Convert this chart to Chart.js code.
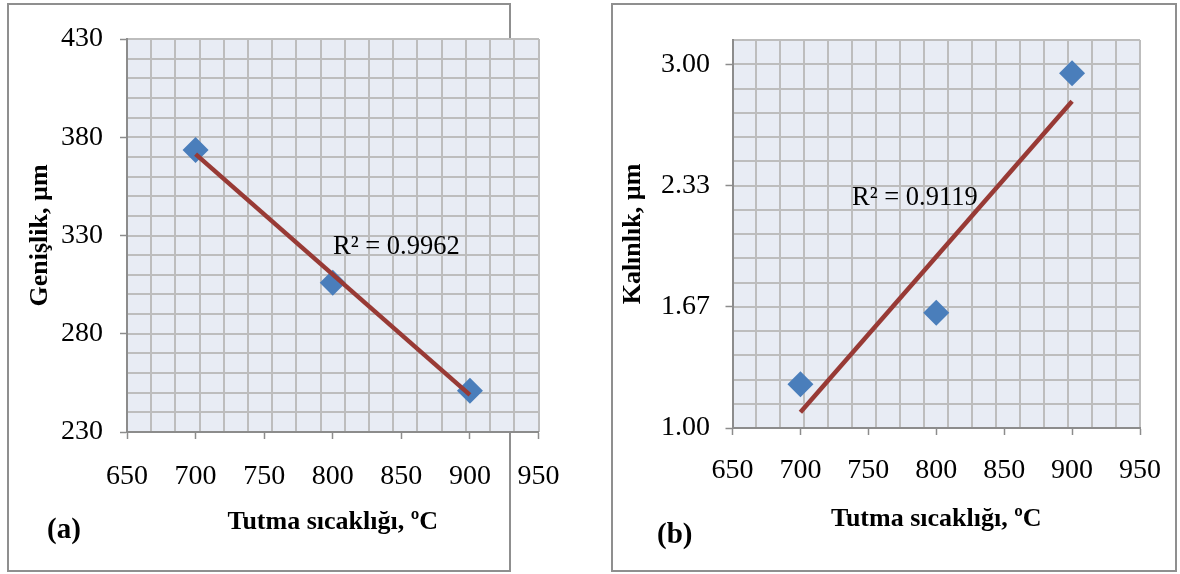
<!DOCTYPE html>
<html>
<head>
<meta charset="utf-8">
<script src="https://cdn.jsdelivr.net/npm/chart.js@4/dist/chart.umd.min.js"></script>
<style>
  body { margin: 0; background: #fff; width: 1180px; height: 574px; position: relative; overflow: hidden; }
  .frame { position: absolute; border: 2px solid #8f8f8f; box-sizing: border-box; }
  canvas { position: absolute; top: 0; }
  .note { position: absolute; font-family: "Liberation Serif", "Times New Roman", serif; line-height: 1; color: #000; white-space: nowrap; }
  .tag { font-weight: bold; font-size: 29px; }
  .r2 { font-size: 26.5px; }
</style>
</head>
<body>
<div class="frame" style="left:7px; top:3px; width:504px; height:569px;"></div>
<div class="frame" style="left:611px; top:3px; width:566px; height:569px;"></div>
<canvas id="chartA" width="590" height="574" style="left:0"></canvas>
<canvas id="chartB" width="590" height="574" style="left:590px"></canvas>
<div class="note r2" style="left:333px; top:232px;">R² = 0.9962</div>
<div class="note r2" style="left:852px; top:183px;">R² = 0.9119</div>
<div class="note tag" style="left:47px; top:514px;">(a)</div>
<div class="note tag" style="left:657px; top:519px;">(b)</div>
<script>
// holding temperatures, °C
const temps = [700, 800, 900];
// width (a) and thickness (b), µm
const widths = [373.5, 306, 251];
const thickness = [1.24, 1.634, 2.95];

const xTicks = [650, 700, 750, 800, 850, 900, 950];
const yTicksA = [230, 280, 330, 380, 430];
const yTicksB = [1.0, 1.6667, 2.3333, 3.0];

const xTitle = "Tutma sıcaklığı, ºC";
const yTitleA = "Genişlik, µm";
const yTitleB = "Kalınlık, µm";

const serif = '"Liberation Serif", "Times New Roman", serif';
const gridColor = "#bdbdbd";
const axisColor = "#8c8c8c";

// least squares line through the points, drawn between first and last x
function trend(xs, ys) {
  const n = xs.length;
  const mx = xs.reduce((a, b) => a + b, 0) / n;
  const my = ys.reduce((a, b) => a + b, 0) / n;
  let sxy = 0, sxx = 0;
  for (let i = 0; i < n; i++) {
    sxy += (xs[i] - mx) * (ys[i] - my);
    sxx += (xs[i] - mx) * (xs[i] - mx);
  }
  const k = sxy / sxx;
  return [xs[0], xs[n - 1]].map(x => ({ x: x, y: my + k * (x - mx) }));
}

const plotBg = {
  id: "plotBg",
  beforeDraw(chart) {
    const a = chart.chartArea;
    const ctx = chart.ctx;
    ctx.save();
    ctx.fillStyle = "#e8ecf4";
    ctx.fillRect(a.left, a.top, a.right - a.left, a.bottom - a.top);
    ctx.restore();
  },
};

function makeChart(id, ys, yMin, yMax, yTicks, digits, yTitle, opts) {
  return new Chart(id, {
    data: {
      datasets: [
        {
          type: "scatter",
          data: temps.map((t, i) => ({ x: t, y: ys[i] })),
          pointStyle: "rectRot",
          pointRadius: 13,
          backgroundColor: "#4a7ebb",
          borderColor: "#4a7ebb",
          borderWidth: 0,
          order: 2,
        },
        {
          type: "line",
          data: trend(temps, ys),
          borderColor: "#983a35",
          borderWidth: 4.5,
          pointRadius: 0,
          order: 1,
        },
      ],
    },
    plugins: [plotBg],
    options: {
      responsive: false,
      animation: false,
      layout: { padding: { left: 0, top: opts.top, right: opts.right, bottom: 0 } },
      plugins: { legend: { display: false }, tooltip: { enabled: false } },
      scales: {
        x: {
          type: "linear",
          position: "bottom",
          min: 650,
          max: 950,
          afterBuildTicks: s => { s.ticks = xTicks.map(v => ({ value: v })); },
          afterFit: s => { s.height = opts.xh; },
          grid: { drawOnChartArea: false, tickLength: 7, tickColor: axisColor, tickWidth: 1.5 },
          border: { color: axisColor, width: 2 },
          ticks: { color: "#000", font: { family: serif, size: 28 }, padding: opts.xpad, maxRotation: 0 },
          title: { display: true, text: xTitle, color: "#000", font: { family: serif, size: 26, weight: "bold" }, padding: { top: 0, bottom: opts.xtpad } },
        },
        y: {
          type: "linear",
          position: "left",
          min: yMin,
          max: yMax,
          afterBuildTicks: s => { s.ticks = yTicks.map(v => ({ value: v })); },
          afterFit: s => { s.width = opts.yw; },
          grid: { drawOnChartArea: false, tickLength: 7, tickColor: axisColor, tickWidth: 1.5 },
          border: { color: axisColor, width: 2 },
          ticks: { color: "#000", font: { family: serif, size: 28 }, padding: opts.ypad, callback: v => v.toFixed(digits) },
          title: { display: true, text: yTitle, color: "#000", font: { family: serif, size: 26, weight: "bold" }, padding: { top: opts.ytpad, bottom: 0 } },
        },
        // fine grid over the plot area
        gx: {
          type: "linear",
          position: "top",
          min: 0,
          max: 17,
          ticks: { display: false, stepSize: 1 },
          afterFit: s => { s.height = 0; },
          grid: { color: gridColor, lineWidth: 2, drawTicks: false },
          border: { display: false },
        },
        gy: {
          type: "linear",
          position: "right",
          min: 0,
          max: opts.rows,
          ticks: { display: false, stepSize: 1 },
          afterFit: s => { s.width = 0; },
          grid: { color: gridColor, lineWidth: 2, drawTicks: false },
          border: { display: false },
        },
      },
    },
  });
}

makeChart("chartA", widths, 230, 430, yTicksA, 0, yTitleA,
  { top: 39, right: 51.5, xh: 142, yw: 127, rows: 20, xpad: 21, ypad: 17, xtpad: 36, ytpad: 25 });
makeChart("chartB", thickness, 1.0, 3.1333, yTicksB, 2, yTitleB,
  { top: 40, right: 36.5, xh: 146, yw: 142.5, rows: 16, xpad: 19, ypad: 15.5, xtpad: 39, ytpad: 28 });
</script>
</body>
</html>
